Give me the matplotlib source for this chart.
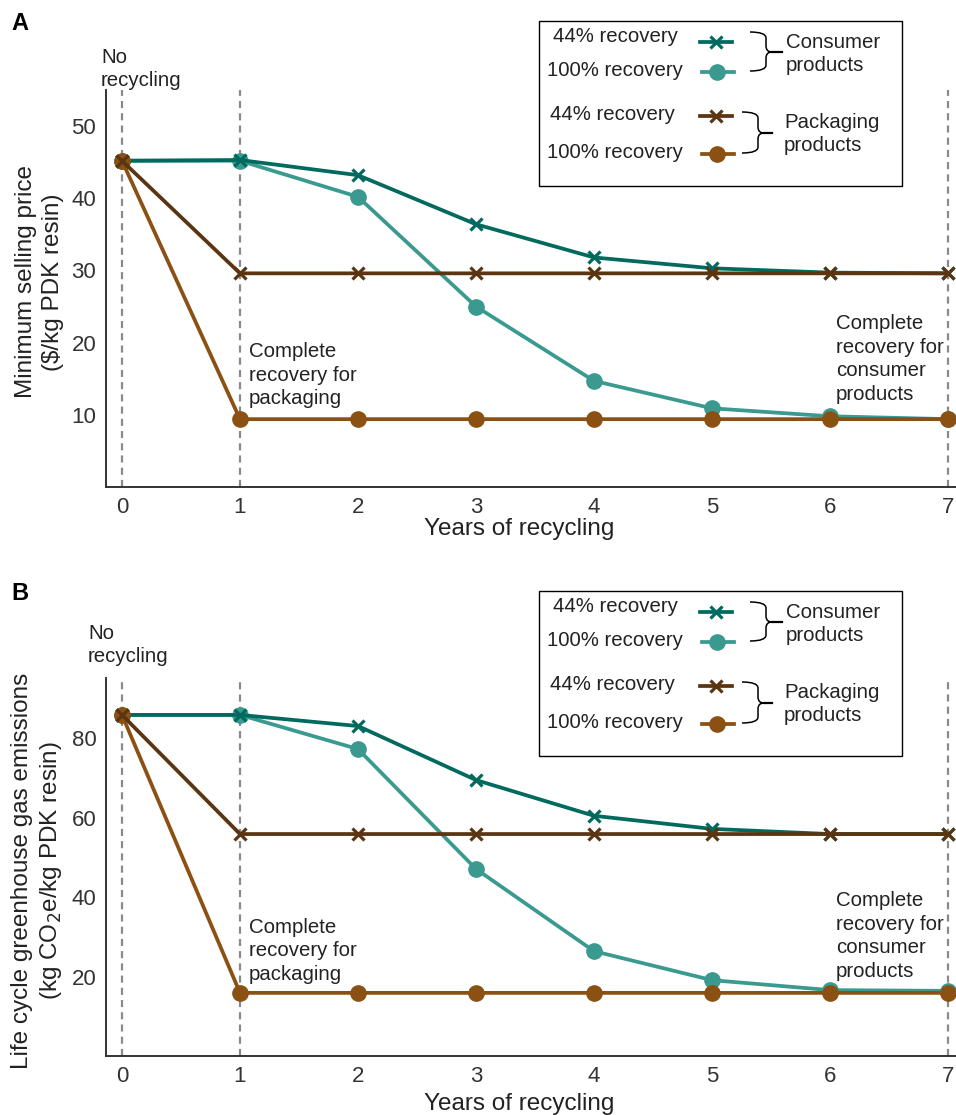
import matplotlib
matplotlib.use("Agg")
import matplotlib.pyplot as plt
from matplotlib.lines import Line2D
from matplotlib.patches import Rectangle, PathPatch
from matplotlib.path import Path

plt.rcParams['font.family'] = ['Liberation Sans', 'DejaVu Sans']

W, H = 956, 1115

# ---------------- data ----------------
years = [0, 1, 2, 3, 4, 5, 6, 7]
xticks = [0, 1, 2, 3, 4, 5, 6, 7]

price_consumer_44 = [45.2, 45.3, 43.2, 36.4, 31.8, 30.3, 29.7, 29.6]
price_consumer_100 = [45.2, 45.2, 40.2, 25.0, 14.7, 10.9, 9.8, 9.4]
price_packaging_44 = [45.2, 29.6, 29.6, 29.6, 29.6, 29.6, 29.6, 29.6]
price_packaging_100 = [45.2, 9.4, 9.4, 9.4, 9.4, 9.4, 9.4, 9.4]
price_yticks = [10, 20, 30, 40, 50]

ghg_consumer_44 = [85.9, 85.9, 83.1, 69.5, 60.5, 57.2, 55.9, 55.9]
ghg_consumer_100 = [85.9, 85.9, 77.3, 47.1, 26.4, 19.1, 16.6, 16.4]
ghg_packaging_44 = [85.9, 55.9, 55.9, 55.9, 55.9, 55.9, 55.9, 55.9]
ghg_packaging_100 = [85.9, 15.9, 15.9, 15.9, 15.9, 15.9, 15.9, 15.9]
ghg_yticks = [20, 40, 60, 80]

vlines_x = [0, 1, 7]
legend_labels = ["44% recovery", "100% recovery", "44% recovery", "100% recovery"]

# ---------------- styles ----------------
C_C44 = "#006a5e"
C_C100 = "#3a9a90"
C_P44 = "#5b3511"
C_P100 = "#8b5112"
GRAY = "#8a8a8a"
TXT = "#222222"
LW = 2.7
MS_O = 11
MS_X = 9

fig = plt.figure(figsize=(W / 100, H / 100), dpi=100)


def fx(x):
    return x / W


def fy(y):
    return 1 - y / H


def make_axes(top, bottom):
    left, right = 106, 956
    return fig.add_axes([fx(left), fy(bottom), (right - left) / W, (bottom - top) / H])


def plot_panel(ax, c44, c100, p44, p100, yticks, ylim):
    for xv in vlines_x:
        ax.axvline(xv, color=GRAY, lw=1.6, ls=(0, (3.2, 2.3)), zorder=1)
    ax.plot(years, c100, color=C_C100, lw=LW, marker='o', ms=MS_O, zorder=3)
    ax.plot(years, c44, color=C_C44, lw=LW, marker='x', ms=MS_X, mew=2.3, zorder=4)
    ax.plot(years, p100, color=C_P100, lw=LW, marker='o', ms=MS_O, zorder=5)
    ax.plot(years, p44, color=C_P44, lw=LW, marker='x', ms=MS_X, mew=2.3, zorder=6)
    ax.set_xlim(-0.1356, 7.068)
    ax.set_ylim(*ylim)
    ax.set_xticks(xticks)
    ax.set_yticks(yticks)
    ax.tick_params(length=0, labelsize=16, labelcolor="#333333", pad=7)
    for s in ['top', 'right']:
        ax.spines[s].set_visible(False)
    for s in ['left', 'bottom']:
        ax.spines[s].set_color("#333333")
        ax.spines[s].set_linewidth(1.4)


def brace(x0, xv, yt, ym, yb, xtip, r=6):
    verts = [
        (x0, yt), (xv, yt), (xv, yt + r),
        (xv, ym - r), (xv, ym), (xv + r, ym),
        (xv, ym), (xv, ym + r),
        (xv, yb - r), (xv, yb), (x0, yb),
    ]
    codes = [Path.MOVETO, Path.CURVE3, Path.CURVE3,
             Path.LINETO, Path.CURVE3, Path.CURVE3,
             Path.CURVE3, Path.CURVE3,
             Path.LINETO, Path.CURVE3, Path.CURVE3]
    verts = [(fx(a), fy(b)) for a, b in verts]
    fig.add_artist(PathPatch(Path(verts, codes), fill=False, lw=1.1, ec='black',
                             transform=fig.transFigure))
    fig.add_artist(Line2D([fx(xv + r), fx(xtip)], [fy(ym), fy(ym)], lw=1.6,
                          color='black', transform=fig.transFigure))


def legend_box(dy):
    fig.add_artist(Rectangle((fx(539), fy(186 + dy)), (902 - 539) / W, (186 - 21) / H,
                             fill=False, ec='black', lw=1.0, transform=fig.transFigure))
    rows = [(37, 42, C_C44, 'x', 615), (70, 72, C_C100, 'o', 615),
            (115, 116, C_P44, 'x', 612), (153, 154, C_P100, 'o', 615)]
    for (ty, ly, col, mk, tx), lab in zip(rows, legend_labels):
        fig.text(fx(tx), fy(ty + dy), lab, ha='center', va='center', fontsize=14.7,
                 color=TXT)
        if mk == 'x':
            fig.add_artist(Line2D([fx(700), fx(732)], [fy(ly + dy)] * 2, color=col, lw=LW,
                                  transform=fig.transFigure))
            fig.add_artist(Line2D([fx(716)], [fy(ly + dy)], color=col, marker='x', ms=MS_X,
                                  mew=2.3, transform=fig.transFigure))
        else:
            fig.add_artist(Line2D([fx(702), fx(734)], [fy(ly + dy)] * 2, color=col, lw=LW,
                                  transform=fig.transFigure))
            fig.add_artist(Line2D([fx(717)], [fy(ly + dy)], color=col, marker='o', ms=MS_O,
                                  transform=fig.transFigure))
    brace(750, 766, 32 + dy, 52 + dy, 71 + dy, 782)
    brace(742, 758, 112 + dy, 133 + dy, 153 + dy, 772)
    fig.text(fx(786), fy(54 + dy), "Consumer\nproducts", ha='left', va='center',
             fontsize=14.7, color=TXT, linespacing=1.27)
    fig.text(fx(784), fy(134 + dy), "Packaging\nproducts", ha='left', va='center',
             fontsize=14.7, color=TXT, linespacing=1.27)


ANN = dict(fontsize=14.7, va='center', ha='left', color=TXT, linespacing=1.3)

# ---------------- panel A ----------------
axA = make_axes(90, 487)
plot_panel(axA, price_consumer_44, price_consumer_100, price_packaging_44,
           price_packaging_100, price_yticks, (0, 55))
axA.set_xlabel("Years of recycling", fontsize=17.5, color=TXT)
axA.set_ylabel("Minimum selling price\n($/kg PDK resin)", fontsize=17.5, color=TXT,
               linespacing=1.28)
axA.xaxis.set_label_coords(0.486, -0.078)
axA.yaxis.set_label_coords((64 - 106) / 850, (487 - 282) / 397)

fig.text(fx(11), fy(24), "A", fontsize=17, fontweight='bold', va='center', ha='left')
fig.text(fx(101), fy(69), "No\nrecycling", **ANN)
fig.text(fx(249), fy(375), "Complete\nrecovery for\npackaging", **ANN)
fig.text(fx(836), fy(359), "Complete\nrecovery for\nconsumer\nproducts", **ANN)
legend_box(0)

# ---------------- panel B ----------------
axB = make_axes(678, 1056)
plot_panel(axB, ghg_consumer_44, ghg_consumer_100, ghg_packaging_44,
           ghg_packaging_100, ghg_yticks, (0, 95.2))
axB.set_xlabel("Years of recycling", fontsize=17.5, color=TXT)
axB.set_ylabel("Life cycle greenhouse gas emissions\n(kg CO$_2$e/kg PDK resin)",
               fontsize=17.5, color=TXT, linespacing=1.28)
axB.xaxis.set_label_coords(0.486, -0.097)
axB.yaxis.set_label_coords((64 - 106) / 850, (1056 - 871) / 378)

fig.text(fx(11), fy(594), "B", fontsize=17, fontweight='bold', va='center', ha='left')
fig.text(fx(88), fy(645), "No\nrecycling", **ANN)
fig.text(fx(249), fy(951), "Complete\nrecovery for\npackaging", **ANN)
fig.text(fx(836), fy(936), "Complete\nrecovery for\nconsumer\nproducts", **ANN)
legend_box(570)

fig.savefig("out.png", dpi=100)
